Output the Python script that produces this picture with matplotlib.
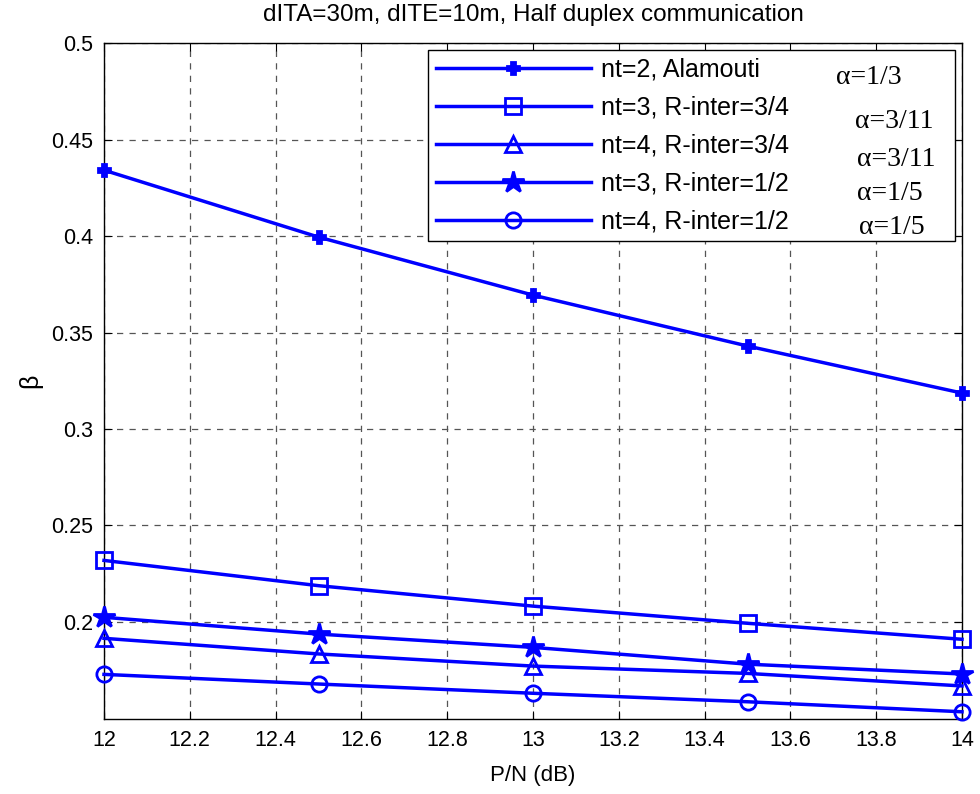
import numpy as np
import matplotlib.pyplot as plt

plt.rcParams['font.family'] = ['Liberation Sans', 'DejaVu Sans']

# data
pn_db = [12, 12.5, 13, 13.5, 14]
beta_alamouti = [0.4342, 0.3995, 0.3694, 0.3430, 0.3186]
beta_nt3_34 = [0.2318, 0.2187, 0.2081, 0.1992, 0.1909]
beta_nt4_34 = [0.1914, 0.1833, 0.1770, 0.1732, 0.1667]
beta_nt3_12 = [0.2023, 0.1936, 0.1867, 0.1780, 0.1729]
beta_nt4_12 = [0.1727, 0.1677, 0.1629, 0.1585, 0.1533]

labels = ["nt=2, Alamouti", "nt=3, R-inter=3/4", "nt=4, R-inter=3/4",
          "nt=3, R-inter=1/2", "nt=4, R-inter=1/2"]
alphas = ["α=1/3", "α=3/11", "α=3/11", "α=1/5", "α=1/5"]
xticks = [12, 12.2, 12.4, 12.6, 12.8, 13, 13.2, 13.4, 13.6, 13.8, 14]
yticks = [0.2, 0.25, 0.3, 0.35, 0.4, 0.45, 0.5]

fig = plt.figure(figsize=(9.8, 7.94), dpi=100)
ax = fig.add_axes([104 / 980, 1 - 719.3 / 794, 858 / 980, 676 / 794])

blue = "#0000ff"
series = [beta_alamouti, beta_nt3_34, beta_nt4_34, beta_nt3_12, beta_nt4_12]
markers = ["P", "s", "^", "*", "o"]
msizes = [8, 11, 11, 16, 11]
for ys, m, ms, lab in zip(series, markers, msizes, labels):
    ax.plot(pn_db, ys, color=blue, lw=2.5, marker=m, ms=ms,
            mfc=(blue if m in ("P", "*") else "none"), mec=blue, mew=2,
            label=lab, clip_on=False, zorder=3)

ax.set_xlim(12, 14)
ax.set_ylim(0.1494, 0.5)
ax.set_xticks(xticks)
ax.set_xticklabels([f"{t:g}" for t in xticks])
ax.set_yticks(yticks)
ax.set_yticklabels([f"{t:g}" for t in yticks])
ax.tick_params(direction="in", labelsize=15.5, length=6, top=True, right=True, pad=8)
ax.grid(True, color="#555555", linestyle=(0, (5, 5)), linewidth=0.9)
for s in ax.spines.values():
    s.set_linewidth(1.0)

ax.set_title("dITA=30m, dITE=10m, Half duplex communication", fontsize=17.5, pad=16)
ax.set_xlabel("P/N (dB)", fontsize=16, labelpad=10)
ax.set_ylabel("β", fontsize=18, labelpad=6)

leg = ax.legend(loc="upper left", bbox_to_anchor=(0.378, 0.99, 0.614, 0.0),
                mode="expand", fontsize=18, handlelength=6.2, handletextpad=0.4,
                borderpad=0.3, labelspacing=0.56, fancybox=False,
                edgecolor="black", framealpha=1, borderaxespad=0)
leg.get_frame().set_linewidth(1.0)

# alpha values typeset at the right of the legend
alpha_pos = [(836, 77), (855, 121), (857, 159), (857, 193), (859, 227)]
for (px, py), t in zip(alpha_pos, alphas):
    fig.text(px / 980, 1 - py / 794, t, fontsize=20, family="Liberation Serif",
             va="center", ha="left", zorder=5)

fig.savefig("out.png", dpi=100)
